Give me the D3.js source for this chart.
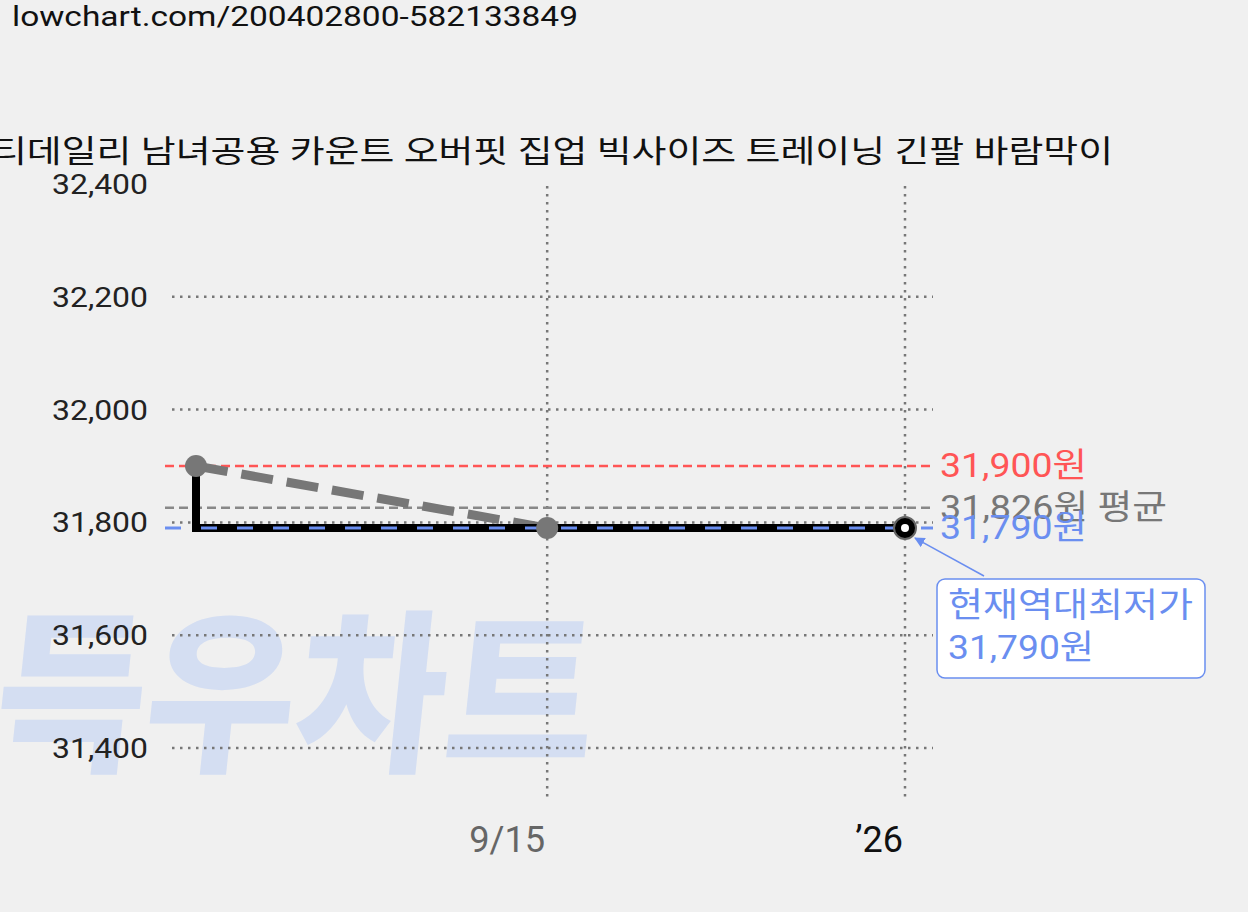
<!DOCTYPE html>
<html><head><meta charset="utf-8">
<script src="https://cdn.jsdelivr.net/npm/d3@7"></script>
<style>body{margin:0;background:#f0f0f0;font-family:Roboto,"Noto Sans CJK KR",sans-serif}</style>
</head><body><svg id="c" width="1248" height="912"></svg>
<script>
const dates=["2025-06-01","2025-09-15","2026-01-01"];
const prices=[31900,31790,31790];
const avgPrices=[31900,31790,31790];
const yTicks=[31400,31600,31800,32000,32200,32400];
const xTickDates=["2025-09-15","2026-01-01"];
const xTickLabels=["9/15","’26"];
const maxPrice=31900, avgPrice=31826, minPrice=31790;
const title="티데일리 남녀공용 카운트 오버핏 집업 빅사이즈 트레이닝 긴팔 바람막이";
const url="lowchart.com/200402800-582133849";

const svg=d3.select("#c");
const pd=d3.timeParse("%Y-%m-%d");
const x=d3.scaleTime().domain([pd(dates[0]),pd(dates[2])]).range([196,905]);
const y=d3.scaleLinear().domain([31400,32400]).range([748,184]);
const K="Roboto,'Noto Sans CJK KR',sans-serif";
function txt(xp,yp,s,size,fill,len,anchor){const t=svg.append("text").attr("x",xp).attr("y",yp).attr("font-size",size)
 .attr("font-family",K).attr("fill",fill).attr("text-anchor",anchor||"start").text(s);
 if(len) t.attr("textLength",len).attr("lengthAdjust","spacingAndGlyphs");return t;}

svg.append("text").attr("x",0).attr("y",758).attr("font-family","'Noto Sans CJK KR'").attr("font-weight",900)
 .attr("font-size",175).attr("fill","#d4def2").attr("transform","skewX(-6) translate(70,0)")
 .attr("textLength",600).attr("lengthAdjust","spacingAndGlyphs").text("득우차트");

txt(12,26,url,28,"#111",566);
txt(-8,162,title,31,"#111",1121);

yTicks.forEach(t=>{
 if(t<32400) svg.append("line").attr("x1",172).attr("x2",933).attr("y1",y(t)).attr("y2",y(t))
  .attr("stroke","#777").attr("stroke-width",2.5).attr("stroke-dasharray","2.5,5.5");
 txt(148,y(t)+10,d3.format(",")(t),28,"#222",96,"end");
});
xTickDates.forEach((d,i)=>{
 svg.append("line").attr("x1",x(pd(d))).attr("x2",x(pd(d))).attr("y1",186).attr("y2",802)
  .attr("stroke","#777").attr("stroke-width",2.5).attr("stroke-dasharray","2.5,5.5");
 txt(x(pd(d))-2,852,xTickLabels[i],36,i==0?"#666":"#111",i==0?76:null,"end");
});

function hline(v,c,dash,w){svg.append("line").attr("x1",165).attr("x2",933).attr("y1",y(v)).attr("y2",y(v))
 .attr("stroke",c).attr("stroke-width",w||2.5).attr("stroke-dasharray",dash);}
hline(maxPrice,"#ff5555","9,5");
hline(avgPrice,"#888","9,5");

const pts=dates.map((d,i)=>[x(pd(d)),y(avgPrices[i])]);
svg.append("path").attr("d",d3.line()(pts.slice(0,2))).attr("fill","none").attr("stroke","#777")
 .attr("stroke-width",9).attr("stroke-dasharray","32,14");
const step=d3.line().curve(d3.curveStepBefore)(dates.map((d,i)=>[x(pd(d)),y(prices[i])]));
svg.append("path").attr("d",step).attr("fill","none").attr("stroke","#000").attr("stroke-width",8);
hline(minPrice,"#6a8ef0","16,20",3);
[0,1].forEach(i=>svg.append("circle").attr("cx",x(pd(dates[i]))).attr("cy",y(avgPrices[i])).attr("r",11).attr("fill","#777"));
svg.append("circle").attr("cx",x(pd(dates[2]))).attr("cy",y(prices[2])).attr("r",11).attr("fill","#000").attr("stroke","#666").attr("stroke-width",2);
svg.append("circle").attr("cx",x(pd(dates[2]))).attr("cy",y(prices[2])).attr("r",4).attr("fill","#fff");

txt(940,y(maxPrice)+11,"31,900원",34,"#ff5555",147);
txt(940,y(avgPrice)+11,"31,826원 평균",34,"#777",227);
txt(940,y(minPrice)+11,"31,790원",34,"#6a8ef0",147);

svg.append("defs").append("marker").attr("id","ar").attr("viewBox","0 0 10 10").attr("refX",9).attr("refY",5)
 .attr("markerWidth",7).attr("markerHeight",7).attr("orient","auto").append("path").attr("d","M0,0L10,5L0,10z").attr("fill","#6a8ef0");
svg.append("line").attr("x1",984).attr("y1",576).attr("x2",915).attr("y2",y(minPrice)+10)
 .attr("stroke","#6a8ef0").attr("stroke-width",1.5).attr("marker-end","url(#ar)");
svg.append("rect").attr("x",937).attr("y",579).attr("width",268).attr("height",99).attr("rx",8)
 .attr("fill","#fff").attr("stroke","#6a8ef0").attr("stroke-width",1.5);
txt(948,617,"현재역대최저가",34,"#6a8ef0",245);
txt(948,659,"31,790원",34,"#6a8ef0",146);
</script></body></html>
